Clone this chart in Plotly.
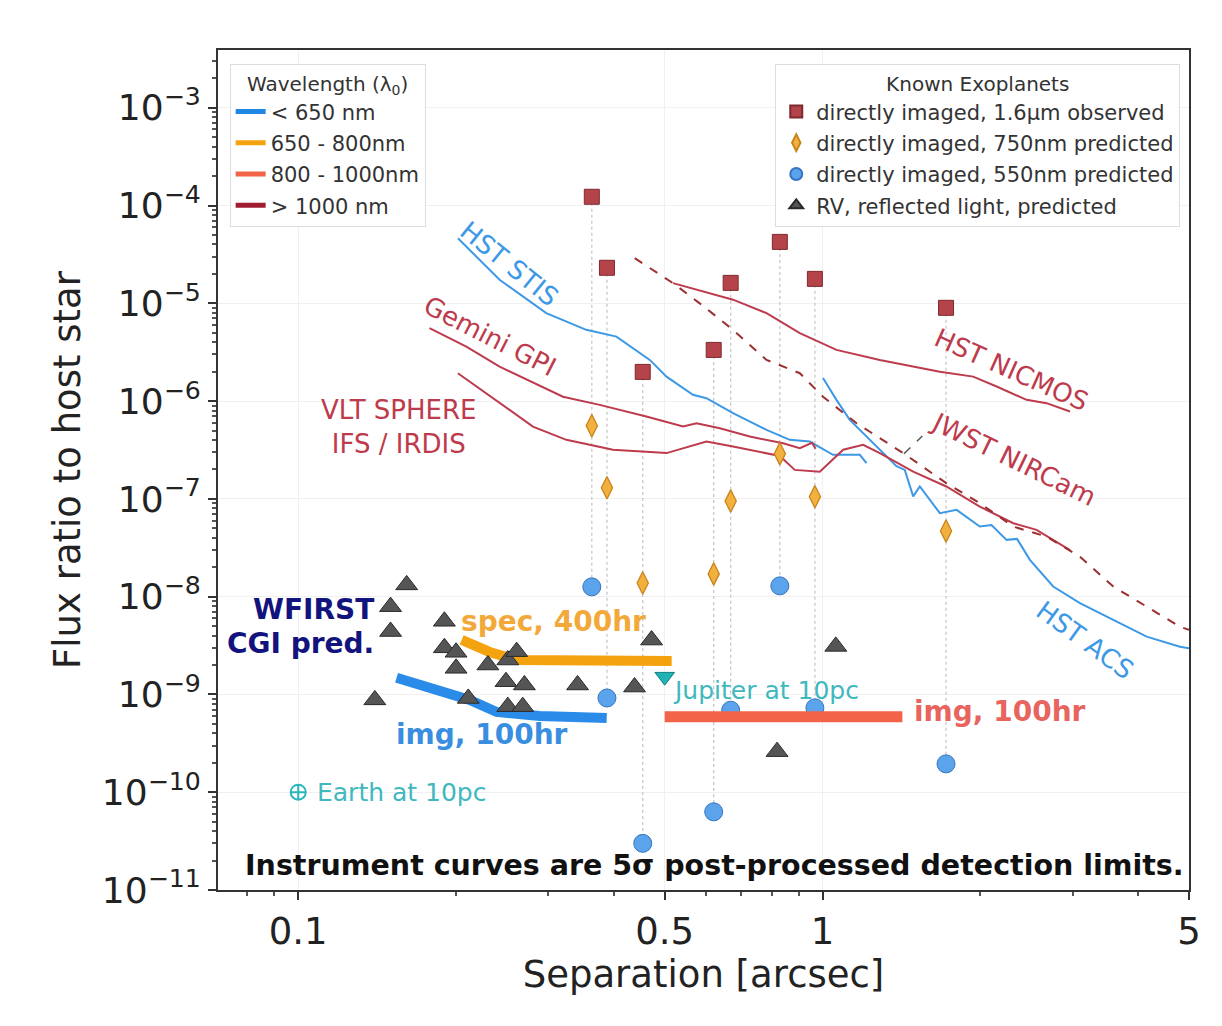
import math
import plotly.graph_objects as go

# ---------------- data ----------------
# known directly-imaged planets (separation in arcsec)
planet_sep = [0.363, 0.388, 0.454, 0.620, 0.668, 0.829, 0.967, 1.72]
planet_obs_16um = [1.23e-4, 2.31e-5, 1.99e-6, 3.34e-6, 1.62e-5, 4.25e-5, 1.78e-5, 9.0e-6]
planet_pred_750 = [5.6e-7, 1.30e-7, 1.38e-8, 1.71e-8, 9.5e-8, 2.9e-7, 1.05e-7, 4.7e-8]
planet_pred_550 = [1.26e-8, 9.2e-10, 3.0e-11, 6.3e-11, 6.9e-10, 1.29e-8, 7.3e-10, 1.95e-10]

# RV planets, reflected light predicted
rv_sep = [0.140, 0.150, 0.150, 0.161, 0.190, 0.190, 0.200, 0.200, 0.211, 0.230, 0.251,
          0.261, 0.249, 0.270, 0.251, 0.268, 0.341, 0.438, 0.472, 0.819, 1.06]
rv_flux = [8.8e-10, 7.9e-9, 4.4e-9, 1.32e-8, 5.6e-9, 3.0e-9, 2.7e-9, 1.85e-9, 9.1e-10, 2.0e-9, 2.25e-9,
           2.74e-9, 1.35e-9, 1.25e-9, 7.5e-10, 7.5e-10, 1.25e-9, 1.19e-9, 3.6e-9, 2.6e-10, 3.1e-9]

jupiter_sep, jupiter_flux = [0.5], [1.52e-9]
earth_sep, earth_flux = [0.1], [1.0e-10]

# instrument contrast curves
stis_x = [0.2016, 0.2421, 0.2972, 0.3543, 0.4045, 0.4683, 0.504, 0.566, 0.6005, 0.675, 0.782, 0.866, 0.9456, 1.047, 1.178, 1.213]
stis_y = [4.64e-5, 1.74e-5, 7.94e-6, 5.36e-6, 4.57e-6, 2.64e-6, 1.78e-6, 1.16e-6, 1.07e-6, 7.53e-7, 5.08e-7, 4.02e-7, 3.86e-7, 2.82e-7, 2.82e-7, 2.32e-7]

gpi_x = [0.178, 0.2092, 0.2421, 0.3198, 0.3758, 0.4613, 0.542, 0.575, 0.637, 0.7264, 0.841, 0.905, 0.955, 0.970]
gpi_y = [5.57e-6, 3.61e-6, 2.25e-6, 1.11e-6, 9.16e-7, 6.95e-7, 5.49e-7, 5.94e-7, 5.28e-7, 4.34e-7, 3.71e-7, 3.30e-7, 3.75e-7, 3.25e-7]

sphere_x = [0.2016, 0.2421, 0.2803, 0.3246, 0.3983, 0.504, 0.6005, 0.675, 0.759, 0.829, 0.885, 0.988, 1.095, 1.195, 1.286, 1.489, 1.722, 1.995, 2.311, 2.56, 2.965]
sphere_y = [1.93e-6, 9.6e-7, 5.49e-7, 4.02e-7, 3.18e-7, 2.94e-7, 3.86e-7, 3.43e-7, 3.05e-7, 2.75e-7, 1.98e-7, 1.90e-7, 3.18e-7, 3.57e-7, 2.94e-7, 1.90e-7, 1.34e-7, 8.34e-8, 5.64e-8, 4.82e-8, 3.0e-8]

nicmos_x = [0.5186, 0.675, 0.782, 0.905, 1.063, 1.286, 1.674, 1.938, 2.148, 2.45, 2.675, 2.965]
nicmos_y = [1.61e-5, 1.09e-5, 7.94e-6, 4.96e-6, 3.34e-6, 2.64e-6, 2.0e-6, 1.78e-6, 1.41e-6, 1.03e-6, 9.53e-7, 7.82e-7]

nircam_x = [0.4383, 0.5186, 0.583, 0.675, 0.782, 0.905, 1.002, 1.161, 1.425, 1.722, 1.995, 2.311, 2.675, 3.097, 3.585, 4.152, 4.806, 5.0]
nircam_y = [2.9e-5, 1.61e-5, 1.0e-5, 5.36e-6, 2.64e-6, 1.93e-6, 1.11e-6, 5.94e-7, 2.94e-7, 1.45e-7, 9.04e-8, 5.21e-8, 4.11e-8, 2.57e-8, 1.27e-8, 7.9e-9, 4.93e-9, 4.57e-9]

acs_x = [1.002, 1.063, 1.127, 1.213, 1.286, 1.384, 1.435, 1.489, 1.533, 1.674, 1.802, 1.995, 2.1, 2.244, 2.35, 2.486, 2.754, 3.097, 3.585, 4.152, 4.806, 5.0]
acs_y = [1.72e-6, 1.03e-6, 6.43e-7, 4.34e-7, 3.18e-7, 2.16e-7, 1.98e-7, 1.06e-7, 1.34e-7, 7.15e-8, 7.73e-8, 5.21e-8, 5.4e-8, 3.81e-8, 3.9e-8, 2.38e-8, 1.27e-8, 8.57e-9, 5.78e-9, 3.9e-9, 3.08e-9, 2.97e-9]

# WFIRST CGI predictions
cgi_img_blue_x = [0.154, 0.178, 0.2123, 0.239, 0.2887, 0.3876]
cgi_img_blue_y = [1.48e-9, 1.17e-9, 8.8e-10, 6.62e-10, 6.03e-10, 5.75e-10]
cgi_spec_x = [0.205, 0.2317, 0.261, 0.5155]
cgi_spec_y = [3.61e-9, 2.72e-9, 2.25e-9, 2.2e-9]
cgi_img_red_x = [0.5, 1.42]
cgi_img_red_y = [5.9e-10, 5.9e-10]

wavelength_labels = ["< 650 nm", "650 - 800nm", "800 - 1000nm", "> 1000 nm"]
wavelength_colors = ["#1f88e5", "#f5a20f", "#f2634a", "#a01c30"]

x_tick_vals = [0.1, 0.5, 1, 5]
x_tick_text = ["0.1", "0.5", "1", "5"]
y_exponents = [-11, -10, -9, -8, -7, -6, -5, -4, -3]

# ---------------- style ----------------
FONT = "DejaVu Sans"
INST_RED = "#bd3b4c"
INST_BLUE = "#3d98e6"
NIRCAM = "#9c2f30"

fig = go.Figure()


def line(x, y, color, width, dash="solid"):
    fig.add_trace(go.Scatter(x=x, y=y, mode="lines", showlegend=False, hoverinfo="skip",
                             line=dict(color=color, width=width, dash=dash)))


# dotted connectors for each known planet
dx, dy = [], []
for s, a, b in zip(planet_sep, planet_obs_16um, planet_pred_550):
    dx += [s, s, None]
    dy += [a, b, None]
fig.add_trace(go.Scatter(x=dx, y=dy, mode="lines", showlegend=False, hoverinfo="skip",
                         line=dict(color="#c8c8c8", width=1.3, dash="dot")))

# instrument curves
line(stis_x, stis_y, INST_BLUE, 2)
line(acs_x, acs_y, INST_BLUE, 2)
line(gpi_x, gpi_y, INST_RED, 2)
line(sphere_x, sphere_y, INST_RED, 2)
line(nicmos_x, nicmos_y, INST_RED, 2)
line(nircam_x, nircam_y, NIRCAM, 2, "dash")
# leader line for the JWST label
line([1.43, 1.55], [2.9e-7, 4.4e-7], "#555555", 1.5, "dash")

# known planets
fig.add_trace(go.Scatter(x=planet_sep, y=planet_obs_16um, mode="markers", legend="legend2",
                         name="directly imaged, 1.6µm observed", legendgroup="a",
                         marker=dict(symbol="square", size=15, color="#b5434a",
                                     line=dict(color="#7d2a2e", width=1))))
fig.add_trace(go.Scatter(x=planet_sep, y=planet_pred_750, mode="markers", legend="legend2",
                         name="directly imaged, 750nm predicted", legendgroup="b",
                         marker=dict(symbol="diamond-tall", size=16, color="#f2b13f",
                                     line=dict(color="#c7851a", width=1.3))))
fig.add_trace(go.Scatter(x=planet_sep, y=planet_pred_550, mode="markers", legend="legend2",
                         name="directly imaged, 550nm predicted", legendgroup="c",
                         marker=dict(symbol="circle", size=18, color="#5ba3ea",
                                     line=dict(color="#3474c2", width=1))))

# WFIRST CGI curves
line(cgi_img_blue_x, cgi_img_blue_y, "#2a8ce8", 10)
line(cgi_spec_x, cgi_spec_y, "#f5a20f", 10)
line(cgi_img_red_x, cgi_img_red_y, "#f2634a", 11)

fig.add_trace(go.Scatter(x=rv_sep, y=rv_flux, mode="markers", legend="legend2",
                         name="RV, reflected light, predicted", legendgroup="d",
                         marker=dict(symbol="triangle-up", size=19, color="#555555",
                                     line=dict(color="#2a2a2a", width=1))))

fig.add_trace(go.Scatter(x=jupiter_sep, y=jupiter_flux, mode="markers", showlegend=False,
                         marker=dict(symbol="triangle-down", size=17, color="#1fb3b5",
                                     line=dict(color="#137d80", width=1))))
fig.add_trace(go.Scatter(x=earth_sep, y=earth_flux, mode="markers", showlegend=False,
                         marker=dict(symbol="circle-cross-open", size=15, color="#2bb6bd",
                                     line=dict(width=2))))

# wavelength legend entries
for i, (lab, col) in enumerate(zip(wavelength_labels, wavelength_colors)):
    fig.add_trace(go.Scatter(x=[None], y=[None], mode="lines", name=lab, legend="legend",
                             legendgroup="w%d" % i, line=dict(color=col, width=5)))


# ---------------- annotations ----------------
def ann(text, x, y, color, size, angle=0, xanchor="center", bold=False):
    if bold:
        text = "<b>" + text + "</b>"
    fig.add_annotation(x=math.log10(x), y=math.log10(y), xref="x", yref="y", text=text,
                       showarrow=False, textangle=angle, xanchor=xanchor, yanchor="middle",
                       font=dict(family=FONT, size=size, color=color))


ann("HST STIS", 0.253, 2.53e-5, INST_BLUE, 26, 39)
ann("Gemini GPI", 0.2317, 4.65e-6, INST_RED, 26, 27)
ann("VLT SPHERE<br>IFS / IRDIS", 0.156, 5.46e-7, INST_RED, 26, 0)
ann("HST NICMOS", 2.297, 2.09e-6, INST_RED, 26, 24)
ann("JWST NIRCam", 2.31, 2.57e-7, INST_RED, 26, 26)
ann("HST ACS", 3.166, 3.61e-9, INST_BLUE, 26, 36)
ann("WFIRST", 0.1404, 7.31e-9, "#13137e", 28, 0, "right", True)
ann("CGI pred.", 0.1404, 3.29e-9, "#13137e", 28, 0, "right", True)
ann("spec, 400hr", 0.203, 5.52e-9, "#f2a93a", 28, 0, "left", True)
ann("img, 100hr", 0.152, 3.94e-10, "#3a8ee0", 28, 0, "left", True)
ann("img, 100hr", 1.48, 6.77e-10, "#e8655f", 28, 0, "left", True)
ann("Jupiter at 10pc", 0.513, 1.11e-9, "#3fb8c0", 25, 0, "left")
ann("Earth at 10pc", 0.1075, 1.0e-10, "#3fb8c0", 25, 0, "left")

fig.add_annotation(x=0.997, y=0.029, xref="paper", yref="paper", xanchor="right", yanchor="middle",
                   text="<b>Instrument curves are 5σ post-processed detection limits.</b>",
                   showarrow=False, font=dict(family=FONT, size=28.5, color="#111111"))

# ---------------- axes ----------------
x_minor = [0.07, 0.08, 0.09, 0.2, 0.3, 0.4, 0.6, 0.7, 0.8, 0.9, 2, 3, 4]
y_minor = []
for e in range(-11, -2):
    for k in range(2, 10):
        v = k * 10.0 ** e
        if v < 4e-3:
            y_minor.append(v)

fig.update_xaxes(type="log", range=[math.log10(0.0703), math.log10(5.0)],
                 tickmode="array", tickvals=x_tick_vals, ticktext=x_tick_text,
                 ticks="outside", ticklen=8, tickwidth=1.5, tickcolor="#333",
                 showline=True, mirror=True, linecolor="#333", linewidth=2,
                 showgrid=True, gridcolor="#f0f0f0", zeroline=False,
                 minor=dict(tickmode="array", tickvals=x_minor, ticks="outside", ticklen=4,
                            tickcolor="#555", showgrid=False),
                 tickfont=dict(family=FONT, size=37, color="#222"),
                 title=dict(text="Separation [arcsec]", standoff=6,
                            font=dict(family=FONT, size=37, color="#222")))
fig.update_yaxes(type="log", range=[-11, math.log10(3.9e-3)],
                 tickmode="array", tickvals=[10.0 ** e for e in y_exponents],
                 ticktext=["10<sup>\u2212%d</sup>" % (-e) for e in y_exponents],
                 ticks="outside", ticklen=8, tickwidth=1.5, tickcolor="#333",
                 showline=True, mirror=True, linecolor="#333", linewidth=2,
                 showgrid=True, gridcolor="#f0f0f0", zeroline=False,
                 minor=dict(tickmode="array", tickvals=y_minor, ticks="outside", ticklen=4,
                            tickcolor="#555", showgrid=False),
                 tickfont=dict(family=FONT, size=36, color="#222"),
                 title=dict(text="Flux ratio to host star", standoff=10,
                            font=dict(family=FONT, size=37, color="#222")))

legend_common = dict(bgcolor="rgba(255,255,255,0.85)", bordercolor="#dddddd", borderwidth=1,
                     font=dict(family=FONT, size=21, color="#333"), tracegroupgap=1,
                     yanchor="top", y=0.983, itemsizing="constant")
# page body adds an 8px margin, so the figure is sized to fit inside it
fig.update_layout(
    width=1206, height=1010,
    margin=dict(l=210, r=25, t=42, b=128, autoexpand=False),
    paper_bgcolor="white", plot_bgcolor="white",
    showlegend=True,
    legend=dict(x=0.012, xanchor="left",
                title=dict(text="Wavelength (λ<sub>0</sub>)", side="top center",
                           font=dict(family=FONT, size=20, color="#333")),
                **legend_common),
    legend2=dict(x=0.991, xanchor="right",
                 title=dict(text="Known Exoplanets", side="top center",
                            font=dict(family=FONT, size=20, color="#333")),
                 **legend_common),
)

fig.write_html("out.html")
